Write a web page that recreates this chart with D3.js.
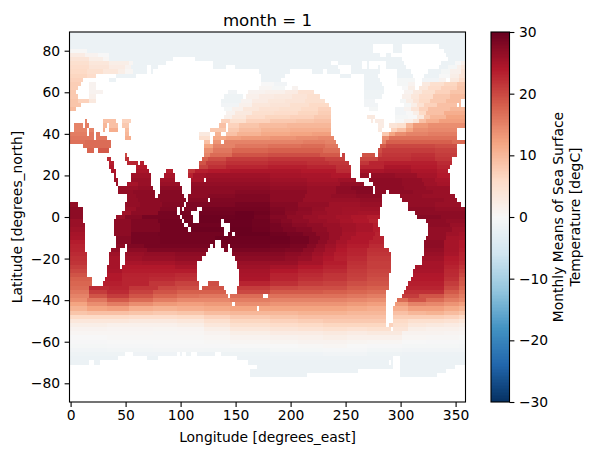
<!DOCTYPE html>
<html>
<head>
<meta charset="utf-8">
<script src="https://cdn.jsdelivr.net/npm/d3@7"></script>
<style>
html,body{margin:0;padding:0;background:#fff}
svg{display:block}
text{font-family:"DejaVu Sans",sans-serif;fill:#000}
</style>
</head>
<body>
<svg id="chart" width="593" height="455"></svg>
<script>
// Sea surface temperature for month 1 on a 2 degree grid.
// Each string is one latitude row, written as runs "startLongitude:value";
// a run lasts until the next one starts and "x" marks cells with no data.
const arcticRows = [
"-1:-1.8",
"-1:-1.8",
"-1:-1.8",
"-1:-1.8 275:x 293:-1.8 301:x 335:-1.8",
"-1:0.3 15:-1.8 275:x 293:-1.8 301:x 339:-1.8",
"-1:2.5 13:1 25:0 35:-1.8 281:x 287:-1.8 291:x 341:-1.8",
"-1:4 17:2 29:0.5 35:-1.8 93:x 113:-1.8 301:x 343:-1.8",
"-1:5 17:3.5 35:2 53:0.5 57:-1.8 87:x 129:-1.8 237:x 243:-1.8 265:x 269:-1.8 271:x 287:-1.8 303:x 337:-1.8 349:0 355:1.5",
"-1:5.5 17:4 35:2.5 49:1 55:-1.8 69:x 73:-1.8 79:x 129:-1.8 141:x 149:-1.8 243:x 255:-1.8 265:x 269:-1.8 271:x 279:-1.8 281:x 287:-1.8 305:x 335:-1.8 343:-0.5 351:1.5 355:3",
"-1:6 15:5 29:3.5 43:2 49:0.5 57:-1.8 69:x 73:-1.8 75:x 171:-1.8 199:x 219:-1.8 229:x 233:-1.8 245:x 255:-1.8 281:x 297:-1.8 309:x 325:-1.8 337:-0.5 345:1.5 355:4",
"-1:6.5 15:5.5 23:x 41:-1.8 59:x 173:-1.8 195:x 245:-1.8 255:x 267:-1.8 279:x 297:-1.8 311:x 321:-1.8 335:0 345:2 353:4",
"-1:7 11:x 35:-1.8 41:x 173:-1.8 191:x 267:-1.8 281:x 297:-0.5 313:x 319:-1 335:1 341:x 345:3 353:5.5",
"-1:7.5 9:x 17:1 23:x 173:0 185:-1 197:x 267:-1.8 283:x 297:-0.5 307:1 313:x 319:3 327:5 339:6.5 351:8",
"-1:7.5 7:x 17:1 23:x 171:0.5 183:-0.5 195:x 201:1 207:x 267:-1.8 285:x 301:0 307:2 313:x 317:3.5 325:5.5 337:7 351:8.5",
"-1:8 5:x 17:1 29:x 143:-1 151:x 161:1 177:1.5 195:2.5 207:4.5 221:x 267:-1.5 285:x 303:1 311:3 319:5 331:7 345:8.5",
"-1:8 7:x 17:1.5 23:x 139:-1.5 157:x 159:1.5 171:2.5 185:3 201:4 215:5 227:x 267:-1.5 283:x 301:1.5 309:3.5 317:5.5 329:8 345:9.5",
"-1:8.5 7:7 17:3 23:x 137:-1.5 155:1 165:2.5 179:3.5 195:4 213:5 231:x 267:-1 277:x 299:-0.5 305:2 311:4 317:6 327:8 341:9.5 355:x",
"-1:8.5 9:x 137:-1 153:1.5 165:3.5 181:4 199:5 217:6 235:x 267:-1 279:x 303:-0.5 309:2 315:4.5 321:7 333:9 351:x 353:9.5 355:x",
"-1:9.5 5:x 139:-0.5 147:1.5 157:3.5 171:4.5 189:5 209:6 225:7 237:x 271:-0.5 279:x 295:-1 303:1 309:4 317:7 325:9 345:10"
];
const northMidRows = [
"-1:x 141:1 149:3 165:5 185:5.5 207:6.5 225:7.5 237:x 295:-1 305:0 311:2 317:6 323:9 339:11",
"-1:x 139:1.5 147:3.5 159:5.5 177:6.5 199:7 221:8 237:x 269:3 277:x 295:-0.5 307:0 315:3 321:8 327:10 341:12",
"-1:x 13:15 15:x 29:9 41:x 47:7 55:x 137:7 145:5 159:7 181:8 205:8.5 221:9 237:x 273:2.5 275:x 277:2.5 285:x 295:0 303:1.5 311:4 317:9 323:11 335:12.5",
"-1:x 3:15 11:x 13:15.5 17:x 29:10 33:x 35:9 43:x 47:8 53:x 135:9 141:x 143:7 153:8.5 171:9.5 197:10 219:10 237:x 279:2.5 285:x 289:4 297:5 305:10 311:13 325:14",
"-1:x 3:15 15:x 17:15 21:x 29:11 31:x 35:11 43:x 49:9.5 53:x 127:8 141:x 143:8 153:9.5 173:10.5 199:11 221:11 237:x 279:3 283:x 291:7 297:9 305:12 311:14 325:14.5 351:x",
"-1:15.5 15:x 17:16 21:x 23:16 27:x 49:10 53:x 117:3 127:x 131:10.5 137:x 141:9 151:10.5 173:11.5 199:12 219:12.5 237:x 283:8 289:12 295:14 305:15 325:15.5 351:x",
"-1:16 21:x 23:16 33:x 49:11 55:x 117:5 127:x 129:11.5 141:12.5 155:13 181:13.5 205:14 225:14.5 239:x 283:14 289:16.5 303:16.5 331:16.5 351:x",
"-1:16.5 13:17 37:x 121:9 127:x 129:13.5 137:x 139:15 151:15 181:15 211:15.5 231:15 241:x 283:15 287:18 303:18 331:18 347:17",
"-1:x 11:17 37:x 121:12 129:15 149:16 179:16.5 209:17 231:16 243:x 281:18.5 287:20 309:20 331:19.5 351:x",
"-1:x 15:17.5 21:x 25:18.5 35:x 121:14 129:16 147:17.5 179:18 211:18 229:17 245:x 279:19.5 283:21 309:21 331:20.5 351:x",
"-1:x 49:20 51:x 121:15 127:17 147:19 179:19.5 209:19.5 227:18.5 245:x 247:20.5 249:x 265:19 277:x 279:20.5 283:21.5 309:22 331:21 351:x",
"-1:x 33:22.5 37:x 49:22 53:x 119:18 125:19.5 141:21 179:21.5 211:21.5 231:20.5 249:x 263:20 279:22 309:22.5 331:21.5 347:x",
"-1:x 35:23.5 39:x 51:23 61:x 63:23.5 67:x 117:19 123:21 141:22 179:22.5 215:22 235:21.5 253:x 263:21.5 271:23 285:23.5 309:23.5 333:22.5 347:x"
];
const tropicNorthRows = [
"-1:x 35:24 39:x 59:24 69:x 117:20.5 125:22 141:23 179:23.5 215:23 241:22 255:x 263:23 285:24.5 309:23.8 333:23 345:x",
"-1:x 37:24.5 41:x 59:24.7 71:x 87:23.5 93:x 107:21.5 113:23.5 125:24 145:24.5 179:24.5 209:24 241:22.5 255:x 263:24.7 285:25.2 309:24.5 333:23.7 343:x",
"-1:x 39:25 41:x 55:25.5 73:x 85:24.7 95:x 107:23.2 111:25 123:25.5 149:25.5 181:25 209:24.7 237:24.2 255:x 263:26 271:x 273:26.5 295:26 315:25 333:24 345:x",
"-1:x 39:25.5 43:x 55:26 73:x 81:25.5 95:x 109:25 121:x 123:26 149:26 181:25.5 215:25 243:25.5 259:x 271:27 301:26.5 319:25.5 331:24.7 345:x",
"-1:x 41:26 43:x 51:25 61:26 73:x 81:26 99:x 109:26.5 149:26.5 181:26 215:25.5 245:26.5 267:x 275:27 301:26.5 321:25.5 333:25 345:x",
"-1:x 43:26 61:26.5 75:x 81:27 101:x 109:27 149:27 181:26.5 215:26 241:27 255:27.7 275:x 277:27 303:26.5 323:26 345:x",
"-1:x 43:26.5 57:27 77:x 81:27.5 101:x 109:27 149:27.5 181:27 215:26 241:27 259:27.5 275:x 277:27 287:x 289:27 311:26.5 329:26 345:x",
"-1:x 51:26.5 59:27 77:x 79:27.5 103:x 107:27 125:27.5 149:28 181:27 213:26 237:26.5 259:27 283:x 299:26.5 319:26 349:x",
"-1:x 51:26.5 61:27 81:27.5 105:x 107:27.5 125:x 127:28 149:28 181:27 211:26 239:26 263:26.5 283:x 301:26.5 319:26.5 339:26 351:x",
"-1:26.5 7:x 49:26.5 63:27 83:27.8 103:x 105:28.2 149:28.7 181:27.5 207:26.5 235:25.5 263:26 283:x 307:26.5 331:26 355:x",
"-1:27 11:x 49:26 59:27 81:28 97:x 99:28 101:x 103:28.2 115:x 119:29 149:29 181:28 195:27.5 207:27 219:26.3 231:25.5 247:25.3 263:25.5 281:x 307:27 331:26.5",
"-1:27 11:x 47:25.5 55:27 79:28.7 97:x 99:28.7 109:x 117:29.2 149:29.7 167:29.3 181:28.2 195:27.3 205:26.7 219:26 233:25.5 247:25.2 261:25 281:x 313:27 333:27",
"-1:27 11:x 41:26 49:27.5 65:28.7 99:x 101:29 111:x 117:29.5 149:29.7 167:29 181:27.7 197:26.8 211:26 225:25.5 241:25 255:24.3 269:23.7 281:x 315:27.5 337:27"
];
const tropicSouthRows = [
"-1:26 11:x 39:27 55:28 79:29 101:x 103:29 111:x 117:29.5 137:x 139:29.7 165:29.3 181:28.2 191:27.5 201:26.7 217:26 233:25.5 245:24.8 257:24.2 271:23.2 279:x 323:27 341:26.5",
"-1:26 13:x 39:27 55:28 81:29 103:x 107:29.2 137:x 145:29.7 165:29.3 181:28.7 191:28 201:27.2 215:26.7 229:26 245:25.3 259:24.7 275:23.7 279:x 325:27 345:26",
"-1:25.5 13:x 39:27 55:28 81:29 107:x 109:29.5 139:x 145:29.8 165:29.4 181:28.7 193:28.2 205:27.7 219:26.8 233:26 247:25.3 259:24.7 275:23.7 281:x 325:26.5 347:25.5",
"-1:25 13:x 39:27 55:28.7 79:29 139:x 143:29.7 147:x 149:29.8 181:29.3 197:28.7 211:28 223:27 235:26 247:25 259:24.2 277:23.2 281:x 325:26.5 341:25.5 353:25",
"-1:24.7 13:x 41:27.5 55:28.7 81:29 131:29.5 181:29.5 199:29 217:28 227:27 235:26 245:25 255:24.2 275:23.2 285:x 323:26.5 341:25 353:24.7",
"-1:23.7 13:x 41:27.5 55:28.7 81:29 131:x 137:29.4 181:29.4 199:29 217:28 225:27 233:26 241:25 251:24.2 271:23.2 285:x 321:27 339:25 353:24",
"-1:23.2 13:x 41:27 49:x 51:28 67:28.7 127:x 129:28.8 131:x 137:29 143:x 145:29.2 181:29 199:28.5 215:27.5 223:26.5 231:25.5 241:24.5 251:23.7 271:22.5 285:x 321:27 339:25 353:24",
"-1:23 13:x 37:26.5 45:x 51:27 69:28 125:x 139:28 143:x 147:28.5 181:28.3 195:28 211:27 221:26 231:25 241:24 251:23.2 269:22 289:x 321:26.5 339:25 353:23.7",
"-1:22.5 15:x 35:25.5 45:x 49:26 67:26.5 95:27 123:x 147:27.5 181:27.5 195:27 209:26.5 219:25.5 229:24.7 239:23.7 251:23 269:21.7 291:x 321:26 339:24.7 353:23.2",
"-1:22 15:x 35:25 45:x 49:25.5 65:26 95:26.5 119:x 149:27 181:27 195:26.5 207:26 219:25 229:24.2 239:23.3 251:22.5 269:21.2 291:x 319:25.5 339:24 353:23",
"-1:21.7 15:x 35:25 45:x 49:24.7 65:25 95:25.5 115:x 151:26 181:26 207:25 229:23.7 251:22 269:20.8 291:x 319:25 339:23.7 353:22.5",
"-1:20.8 15:x 33:25 45:x 47:24 65:24 95:24.7 115:x 151:25.5 181:25 207:24 229:23.2 251:21.7 269:20.8 291:x 313:25 339:23.2 353:21.7"
];
const southMidRows = [
"-1:20 15:x 33:24.7 47:23.7 71:23.7 95:23.7 115:x 153:25 181:24 207:23.2 229:22.5 251:21.2 269:20.3 291:x 311:24.7 339:22.7 353:20.8",
"-1:19 15:x 33:24 47:23.2 71:23 95:22.5 115:x 153:24.7 181:23.2 207:22.5 229:21.7 251:20.8 269:20 289:x 311:24.2 339:22.5 353:20",
"-1:18 19:x 31:24 47:23 71:22.5 95:22 115:x 153:24.5 181:23 207:22 229:21.5 251:20.5 269:19.5 289:x 309:24 339:22 353:19",
"-1:17.5 19:x 29:23.5 47:23 71:21.5 95:20.5 117:x 125:19.5 135:x 153:23 181:22 207:21 229:20.5 251:19.5 269:19 289:x 307:23.5 339:21 353:18.5",
"-1:17 17:22.5 35:23 53:21.5 79:20 97:19.5 117:x 119:19 139:x 151:21 181:20 207:19.5 229:19.5 251:18.5 269:18 289:x 305:23 339:20 353:17.5",
"-1:16 17:21 33:22.5 53:20.5 75:19 97:18 117:18 141:x 151:20 181:18.5 207:18.5 229:18 251:17.5 269:17 287:x 303:22 339:18.5 353:16.5",
"-1:15 17:19 33:21 53:19 75:17.5 97:16.5 117:16 143:x 145:17 175:x 179:16.5 207:16.5 229:16.5 251:16 269:15.5 287:x 301:21 317:19 339:17 353:15.5",
"-1:14 15:16 33:18.5 53:17 75:15.5 97:14.5 121:14.5 145:15.5 181:15 207:15 229:15 251:14.5 269:14 287:x 297:17 307:19 323:17 339:15.5 353:14.5",
"-1:12 15:14 33:15.5 53:14 75:13 97:12.5 121:13 147:x 149:14 181:13.5 207:13.5 229:13.5 251:13 269:12.5 287:x 295:13 307:15 323:14.5 339:13.5 353:12.5",
"-1:10.5 15:12 33:12.5 53:11 75:10.5 97:11 121:11.5 145:12 169:x 171:12 207:12 229:12 251:11.5 269:11 287:x 293:11 307:12.5 323:12.5 339:11.5 353:10.5",
"-1:8.5 15:9 33:9 53:8.5 75:8 97:8.5 121:9.5 145:10 181:10 207:10.5 229:10.5 251:10 269:10 287:x 293:9 307:10 323:10.5 339:9.5 353:8.5",
"-1:6 15:6 33:6 53:5.5 75:5.5 97:6 121:7 145:8 181:8.5 207:9 229:9 251:9 269:9 287:x 293:7.5 307:7.5 323:7.5 339:7 353:6"
];
const southernRows = [
"-1:3.5 33:3.5 53:3 75:3 97:3.5 121:5 145:6.5 181:7 207:7.5 229:8 251:8 269:8 287:x 293:6 307:5 323:5 339:4.5 353:3.5",
"-1:2 33:1.5 53:1.5 75:1.5 97:2 121:3.5 145:5 181:5.5 207:6 229:6.5 251:6.5 269:6.5 287:x 289:7 293:5 307:3.5 323:3 339:2.5 353:2",
"-1:1 33:0.8 53:0.8 75:0.7 97:0.8 121:2 145:3.5 181:4 207:4.5 229:5 251:4.5 269:5 291:x 293:4 307:2 323:1.5 339:1.5 353:1",
"-1:0.5 33:0.5 53:0.5 75:0.4 97:0.5 121:1 145:2 181:2.5 207:2.5 229:3 251:2.5 269:3 289:3 301:1 323:1 339:0.8 353:0.6",
"-1:0 33:0.2 75:0.2 121:0.5 145:1 181:1.2 207:1.5 229:2 251:1.5 269:1.5 289:1.5 301:0.5 323:0.4 353:0.1",
"-1:-0.2 33:0 75:0 121:0.2 145:0.5 181:0.7 207:1 229:1 251:0.7 269:0.5 301:0 323:-0.2 353:-0.3",
"-1:-0.5 33:-0.3 75:-0.2 121:-0.2 145:0 181:0 207:0.3 229:0.5 251:0 269:-0.2 301:-0.5 353:-0.6",
"-1:-1 33:-0.8 75:-0.7 121:-0.8 181:-0.5 229:-0.3 269:-0.8 301:-1 353:-1",
"-1:-1.4 49:x 57:-1.2 97:x 99:-1.2 101:x 105:-1.4 109:x 115:-1.6 131:x 137:-1.5 181:-1.2 229:-1 269:-1.4 301:-1.6",
"-1:-1.7 43:x 69:-1.7 79:x 151:-1.6 293:x 299:-1.7",
"-1:-1.7 17:x 21:-1.7 27:x 161:-1.7 289:x 291:-1.7 293:x 299:-1.7",
"-1:x 169:-1.7 293:x 299:-1.7 349:x",
"-1:x 163:-1.7 261:x 299:-1.7 341:x",
"-1:x 163:-1.7 215:x 299:-1.7 333:x"
];

const firstLatitude = 88;
const latitudeStep = 2;
const longitudeStep = 2;
const longitudeTicks = [0, 50, 100, 150, 200, 250, 300, 350];
const latitudeTicks = [-80, -60, -40, -20, 0, 20, 40, 60, 80];
const colorbarTicks = [-30, -20, -10, 0, 10, 20, 30];
const colormapStops = ["#053061","#2166ac","#4393c3","#92c5de","#d1e5f0","#f7f7f7","#fddbc7","#f4a582","#d6604d","#b2182b","#67001f"];

const sstRows = [...arcticRows, ...northMidRows, ...tropicNorthRows, ...tropicSouthRows, ...southMidRows, ...southernRows];

// Expand the runs of every row into one record per grid cell.
const cells = [];
sstRows.forEach((row, i) => {
  const lat = firstLatitude - i * latitudeStep;
  const runs = row.split(" ").map(t => t.split(":"));
  for (let lon = 0; lon < 360; lon += longitudeStep) {
    let value = null;
    for (const [start, v] of runs) {
      if (+start <= lon) value = v;
    }
    if (value !== "x") cells.push({lon, lat, value: +value});
  }
});

const plot = {left: 69.5, right: 465.5, top: 32, bottom: 402};
const bar = {left: 491, right: 509.5};
const fontSize = 13.89;
const lineWidth = 1.1;

const x = d3.scaleLinear().domain([-1, 359]).range([plot.left, plot.right]);
const y = d3.scaleLinear().domain([-89, 89]).range([plot.bottom, plot.top]);
const color = d3.scaleLinear()
  .domain(d3.range(-30, 31, 6))
  .range(colormapStops)
  .interpolate(d3.interpolateRgb)
  .clamp(true);
const barY = d3.scaleLinear().domain([-30, 30]).range([plot.bottom, plot.top]);

const svg = d3.select("#chart");
const tickText = d => d3.format("d")(d).replace("-", "\u2212");

// Temperature cells
svg.append("g").attr("shape-rendering", "crispEdges")
  .selectAll("rect").data(cells).join("rect")
  .attr("x", d => x(d.lon - longitudeStep / 2))
  .attr("width", d => x(d.lon + longitudeStep / 2) - x(d.lon - longitudeStep / 2))
  .attr("y", d => y(d.lat + latitudeStep / 2))
  .attr("height", d => y(d.lat - latitudeStep / 2) - y(d.lat + latitudeStep / 2))
  .attr("fill", d => color(d.value));

// Axes and frame of the map
function styleAxis(g) {
  g.selectAll("text").style("font-size", fontSize + "px").style("font-family", '"DejaVu Sans",sans-serif').attr("fill", "#000");
  g.selectAll("line").attr("stroke", "#000").attr("stroke-width", lineWidth);
  g.select(".domain").remove();
}
svg.append("g").attr("transform", `translate(0,${plot.bottom})`)
  .call(d3.axisBottom(x).tickValues(longitudeTicks).tickSize(4.9).tickPadding(3.5).tickFormat(tickText))
  .call(styleAxis);
svg.append("g").attr("transform", `translate(${plot.left},0)`)
  .call(d3.axisLeft(y).tickValues(latitudeTicks).tickSize(4.9).tickPadding(4.5).tickFormat(tickText))
  .call(styleAxis);
svg.append("rect")
  .attr("x", plot.left).attr("y", plot.top)
  .attr("width", plot.right - plot.left).attr("height", plot.bottom - plot.top)
  .attr("fill", "none").attr("stroke", "#000").attr("stroke-width", lineWidth);

// Titles of the map
svg.append("text").attr("x", (plot.left + plot.right) / 2).attr("y", 25.5)
  .attr("text-anchor", "middle").style("font-size", "16.67px").text("month = 1");
svg.append("text").attr("x", (plot.left + plot.right) / 2).attr("y", 441.5)
  .attr("text-anchor", "middle").style("font-size", fontSize + "px").text("Longitude [degrees_east]");
svg.append("text").attr("transform", `translate(22,${(plot.top + plot.bottom) / 2}) rotate(-90)`)
  .attr("text-anchor", "middle").style("font-size", fontSize + "px").text("Latitude [degrees_north]");

// Colour bar
const barLevels = d3.range(256);
const barLevelY = d3.scaleLinear().domain([0, 256]).range([plot.bottom, plot.top]);
svg.append("g").attr("shape-rendering", "crispEdges")
  .selectAll("rect").data(barLevels).join("rect")
  .attr("x", bar.left).attr("width", bar.right - bar.left)
  .attr("y", d => barLevelY(d + 1))
  .attr("height", d => barLevelY(d) - barLevelY(d + 1))
  .attr("fill", d => color(-30 + 60 * (d + 0.5) / 256));
svg.append("rect")
  .attr("x", bar.left).attr("y", plot.top)
  .attr("width", bar.right - bar.left).attr("height", plot.bottom - plot.top)
  .attr("fill", "none").attr("stroke", "#000").attr("stroke-width", lineWidth);
svg.append("g").attr("transform", `translate(${bar.right},0)`)
  .call(d3.axisRight(barY).tickValues(colorbarTicks).tickSize(4.9).tickPadding(4.5).tickFormat(tickText))
  .call(styleAxis);
const barLabel = svg.append("text")
  .attr("transform", `translate(563,${(plot.top + plot.bottom) / 2}) rotate(-90)`)
  .attr("text-anchor", "middle").style("font-size", fontSize + "px");
barLabel.append("tspan").attr("x", 0).attr("y", 0).text("Monthly Means of Sea Surface");
barLabel.append("tspan").attr("x", 0).attr("y", 16.5).text("Temperature [degC]");
</script>
</body>
</html>
